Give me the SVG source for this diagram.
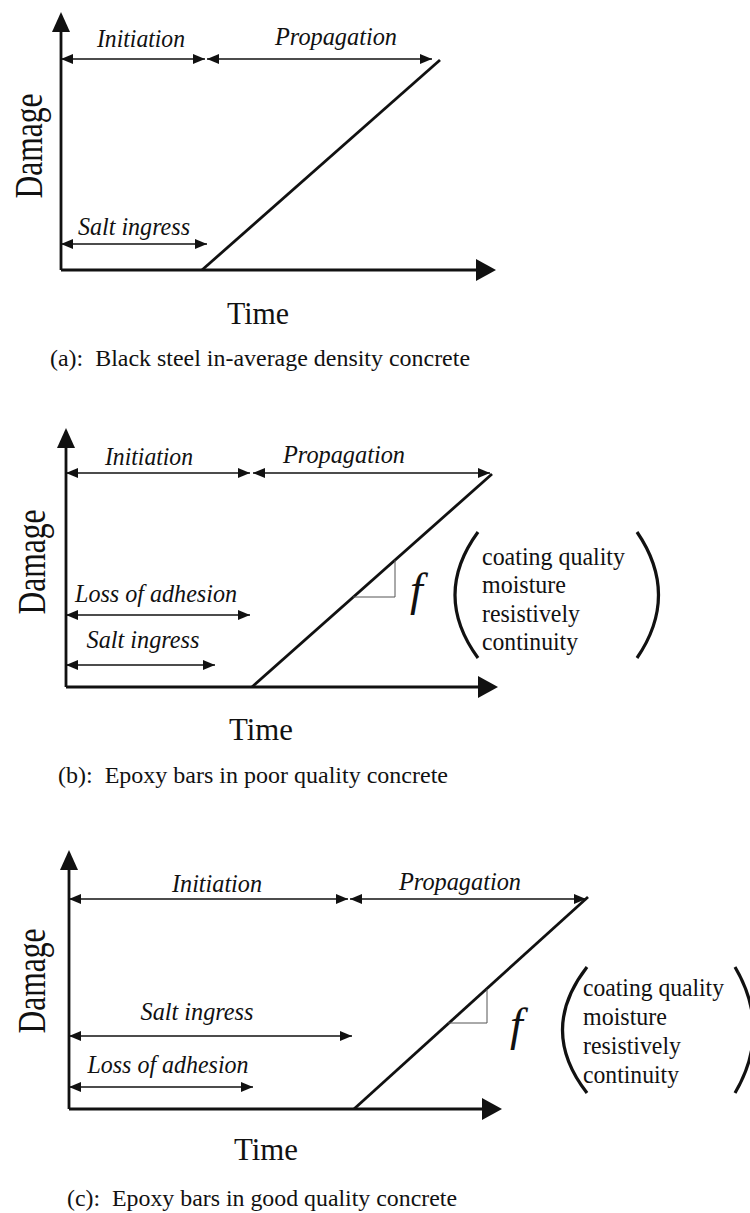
<svg xmlns="http://www.w3.org/2000/svg" width="750" height="1213" viewBox="0 0 750 1213">
<defs>
<marker id="dh" viewBox="0 0 12 10" refX="12" refY="5" markerWidth="12" markerHeight="10" markerUnits="userSpaceOnUse" orient="auto-start-reverse"><path d="M0,0 L12,5 L0,10 z" fill="#111"/></marker>
</defs>
<style>
text{font-family:"Liberation Serif","Times New Roman",serif;fill:#111}
.lab{font-style:italic;font-size:25px;text-anchor:middle}
.ax{font-size:40px;text-anchor:middle}
.tm{font-size:31px;text-anchor:middle}
.cap{font-size:24px;white-space:pre}
.fn{font-size:26px}
.ff{font-style:italic;font-size:46px}
.axis{stroke:#111;stroke-width:2.8;fill:none}
.head{fill:#111}
.dim{stroke:#111;stroke-width:1.4;fill:none;marker-start:url(#dh);marker-end:url(#dh)}
.diag{stroke:#111;stroke-width:2.8;fill:none}
.tri{stroke:#555;stroke-width:1;fill:none}
.par{stroke:#111;stroke-width:3.2;fill:none}
</style>
<rect width="750" height="1213" fill="#fff"/>

<g id="panel-a">
  <g id="a-axes">
    <path class="axis" d="M61,270 V28 M61,270 H478"/>
    <polygon class="head" points="61,12 52,32 70,32"/>
    <polygon class="head" points="496,270 476,259 476,281"/>
  </g>
  <g id="a-connectors">
    <line class="dim" x1="61" y1="59" x2="205" y2="59"/>
    <line class="dim" x1="207" y1="59" x2="432" y2="59"/>
    <line class="dim" x1="61" y1="244" x2="207" y2="244"/>
    <line class="diag" x1="202" y1="270" x2="440" y2="60"/>
  </g>
  <g id="a-initiation"><text class="lab" x="141" y="47" textLength="88" lengthAdjust="spacingAndGlyphs">Initiation</text></g>
  <g id="a-propagation"><text class="lab" x="336" y="45" textLength="122" lengthAdjust="spacingAndGlyphs">Propagation</text></g>
  <g id="a-salt"><text class="lab" x="134" y="235" textLength="112" lengthAdjust="spacingAndGlyphs">Salt ingress</text></g>
  <g id="a-damage"><text class="ax" transform="translate(42,146) rotate(-90)" textLength="105" lengthAdjust="spacingAndGlyphs">Damage</text></g>
  <g id="a-time"><text class="tm" x="258" y="324" textLength="62" lengthAdjust="spacingAndGlyphs">Time</text></g>
  <g id="a-caption"><text class="cap" x="50" y="366" textLength="420" lengthAdjust="spacingAndGlyphs">(a):  Black steel in-average density concrete</text></g>
</g>

<g id="panel-b">
  <g id="b-axes">
    <path class="axis" d="M66,687 V446 M66,687 H480"/>
    <polygon class="head" points="66,428 57,448 75,448"/>
    <polygon class="head" points="498,687 478,676 478,698"/>
  </g>
  <g id="b-connectors">
    <line class="dim" x1="66" y1="473" x2="250" y2="473"/>
    <line class="dim" x1="253" y1="473" x2="490" y2="473"/>
    <line class="dim" x1="66" y1="615" x2="250" y2="615"/>
    <line class="dim" x1="66" y1="665" x2="215" y2="665"/>
    <line class="diag" x1="252" y1="687" x2="492" y2="474"/>
    <polyline class="tri" points="353,597 395,597 395,560"/>
  </g>
  <g id="b-initiation"><text class="lab" x="149" y="465" textLength="88" lengthAdjust="spacingAndGlyphs">Initiation</text></g>
  <g id="b-propagation"><text class="lab" x="344" y="463" textLength="122" lengthAdjust="spacingAndGlyphs">Propagation</text></g>
  <g id="b-loss"><text class="lab" x="156" y="602" textLength="162" lengthAdjust="spacingAndGlyphs">Loss of adhesion</text></g>
  <g id="b-salt"><text class="lab" x="143" y="648" textLength="113" lengthAdjust="spacingAndGlyphs">Salt ingress</text></g>
  <g id="b-function">
    <text class="ff" x="410" y="605">f</text>
    <path class="par" d="M478,532 Q432,595 478,658"/>
    <path class="par" d="M637,532 Q680,595 637,658"/>
    <text class="fn" x="482" y="565" textLength="143" lengthAdjust="spacingAndGlyphs">coating quality</text>
    <text class="fn" x="482" y="593" textLength="84" lengthAdjust="spacingAndGlyphs">moisture</text>
    <text class="fn" x="482" y="622" textLength="98" lengthAdjust="spacingAndGlyphs">resistively</text>
    <text class="fn" x="482" y="650" textLength="96" lengthAdjust="spacingAndGlyphs">continuity</text>
  </g>
  <g id="b-damage"><text class="ax" transform="translate(45,562) rotate(-90)" textLength="105" lengthAdjust="spacingAndGlyphs">Damage</text></g>
  <g id="b-time"><text class="tm" x="261" y="740" textLength="64" lengthAdjust="spacingAndGlyphs">Time</text></g>
  <g id="b-caption"><text class="cap" x="58" y="783" textLength="390" lengthAdjust="spacingAndGlyphs">(b):  Epoxy bars in poor quality concrete</text></g>
</g>

<g id="panel-c">
  <g id="c-axes">
    <path class="axis" d="M69,1109 V868 M69,1109 H484"/>
    <polygon class="head" points="69,850 60,870 78,870"/>
    <polygon class="head" points="502,1109 482,1098 482,1120"/>
  </g>
  <g id="c-connectors">
    <line class="dim" x1="69" y1="899" x2="348" y2="899"/>
    <line class="dim" x1="350" y1="899" x2="586" y2="899"/>
    <line class="dim" x1="69" y1="1036" x2="352" y2="1036"/>
    <line class="dim" x1="69" y1="1087" x2="253" y2="1087"/>
    <line class="diag" x1="354" y1="1109" x2="588" y2="897"/>
    <polyline class="tri" points="448,1023 487,1023 487,989"/>
  </g>
  <g id="c-initiation"><text class="lab" x="217" y="892" textLength="90" lengthAdjust="spacingAndGlyphs">Initiation</text></g>
  <g id="c-propagation"><text class="lab" x="460" y="890" textLength="122" lengthAdjust="spacingAndGlyphs">Propagation</text></g>
  <g id="c-salt"><text class="lab" x="197" y="1020" textLength="113" lengthAdjust="spacingAndGlyphs">Salt ingress</text></g>
  <g id="c-loss"><text class="lab" x="168" y="1073" textLength="161" lengthAdjust="spacingAndGlyphs">Loss of adhesion</text></g>
  <g id="c-function">
    <text class="ff" x="510" y="1040">f</text>
    <path class="par" d="M587,967 Q538,1030 587,1093"/>
    <path class="par" d="M735,967 Q772,1030 735,1093"/>
    <text class="fn" x="583" y="996" textLength="141" lengthAdjust="spacingAndGlyphs">coating quality</text>
    <text class="fn" x="583" y="1025" textLength="84" lengthAdjust="spacingAndGlyphs">moisture</text>
    <text class="fn" x="583" y="1054" textLength="98" lengthAdjust="spacingAndGlyphs">resistively</text>
    <text class="fn" x="583" y="1083" textLength="96" lengthAdjust="spacingAndGlyphs">continuity</text>
  </g>
  <g id="c-damage"><text class="ax" transform="translate(45,981) rotate(-90)" textLength="105" lengthAdjust="spacingAndGlyphs">Damage</text></g>
  <g id="c-time"><text class="tm" x="266" y="1160" textLength="64" lengthAdjust="spacingAndGlyphs">Time</text></g>
  <g id="c-caption"><text class="cap" x="67" y="1206" textLength="390" lengthAdjust="spacingAndGlyphs">(c):  Epoxy bars in good quality concrete</text></g>
</g>
</svg>
